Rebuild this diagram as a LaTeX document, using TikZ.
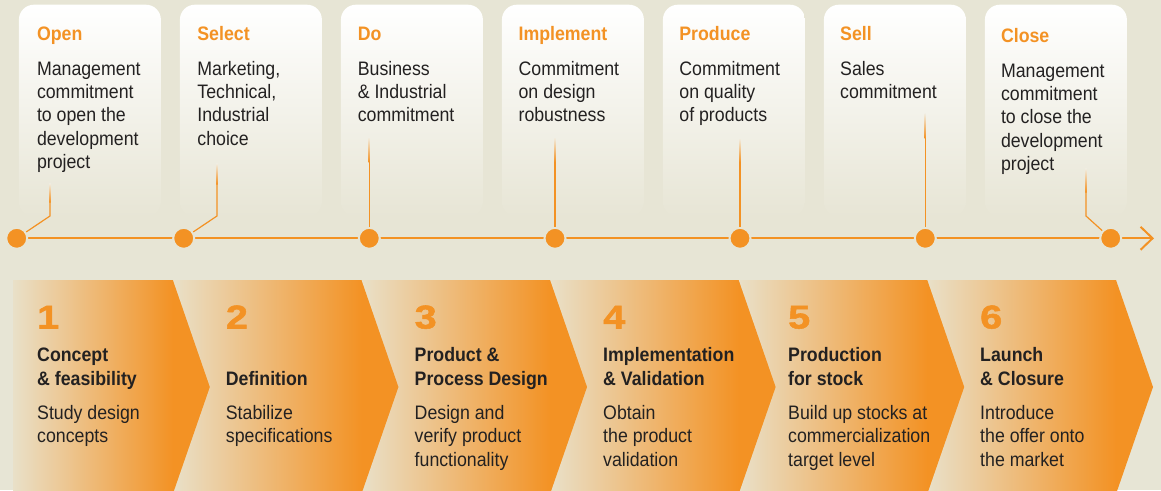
\documentclass[tikz,border=0pt]{standalone}
\usepackage{fontspec}
\setmainfont{Liberation Sans}[FakeStretch=0.91]
\newfontfamily\numfont{Liberation Sans}[FakeStretch=1.2, FakeBold=1.6]
\usetikzlibrary{arrows.meta}
\definecolor{bg}{HTML}{E7E5D5}
\definecolor{org}{HTML}{F39224}
\definecolor{txt}{HTML}{232121}
\definecolor{chevL}{HTML}{E9E0C8}
\definecolor{cardmid}{HTML}{F7F6F0}
\definecolor{cardlow}{HTML}{F1EFE5}
\tikzset{
  card/.style={rounded corners=15pt, top color=white, middle color=cardmid, bottom color=bg,
    minimum width=142pt, minimum height=212pt, anchor=north west, inner sep=0pt, draw=none},
  gtitle/.style={anchor=base west, inner sep=0pt, text=org, font=\bfseries\fontsize{19.5}{23.4}\selectfont},
  gbody/.style={anchor=base west, inner sep=0pt, text=txt, font=\fontsize{19.5}{23.4}\selectfont},
  ctitle/.style={anchor=base west, inner sep=0pt, text=txt, font=\bfseries\fontsize{19.5}{23.4}\selectfont},
  num/.style={anchor=base west, inner sep=0pt, text=org, font=\numfont\bfseries\fontsize{33}{33}\selectfont},
  dot/.style={circle, fill=org, draw=bg, line width=2pt, minimum size=21pt, inner sep=0pt},
  tl/.style={draw=org, line width=2.2pt},
  conn/.style={draw=org, line width=1.2pt},
  fadeconn/.style={top color=cardlow, bottom color=org, draw=none},
}
\newcommand{\lines}[2][t]{\parbox[#1]{150pt}{\raggedright #2}}
\begin{document}
\begin{tikzpicture}[x=1pt,y=-1pt]
\fill[bg] (0,0) rectangle (1161,490);
\useasboundingbox (0,0) rectangle (1161,490);

% ---------- cards ----------
\node[card] (c1) at (18.7,4.5) {};
\node[card] (c2) at (179.7,4.5) {};
\node[card] (c3) at (340.7,4.5) {};
\node[card] (c4) at (501.7,4.5) {};
\node[card] (c5) at (662.7,4.5) {};
\node[card] (c6) at (823.7,4.5) {};
\node[card] (c7) at (984.7,4.5) {};

% ---------- gate texts ----------
\node[gtitle] (t1) at (36.8,40.5) {Open};
\node[gbody]  (b1) at (36.8,75) {\lines{Management\\commitment\\to open the\\development\\project}};
\node[gtitle] (t2) at (197.2,40.5) {Select};
\node[gbody]  (b2) at (197.2,75) {\lines{Marketing,\\Technical,\\Industrial\\choice}};
\node[gtitle] (t3) at (357.6,40.5) {Do};
\node[gbody]  (b3) at (357.6,75) {\lines{Business\\\& Industrial\\commitment}};
\node[gtitle] (t4) at (518.4,40.5) {Implement};
\node[gbody]  (b4) at (518.4,75) {\lines{Commitment\\on design\\robustness}};
\node[gtitle] (t5) at (679.2,40.5) {Produce};
\node[gbody]  (b5) at (679.2,75) {\lines{Commitment\\on quality\\of products}};
\node[gtitle] (t6) at (840,40.5) {Sell};
\node[gbody]  (b6) at (840,75) {\lines{Sales\\commitment}};
\node[gtitle] (t7) at (1000.8,42.3) {Close};
\node[gbody]  (b7) at (1000.8,77) {\lines{Management\\commitment\\to close the\\development\\project}};

% ---------- timeline ----------
\coordinate (tip) at (1154,238.3);
\coordinate (start) at (16.7,238.3);
\draw[tl, -{Straight Barb[length=12pt, width=23pt, line width=2pt]}] (start) -- (tip);

% connectors (fading tops)
\shade[fadeconn] (49.4,183) rectangle (50.6,202);
\shade[fadeconn] (216.4,163) rectangle (217.6,184);
\shade[fadeconn] (368.7,137) rectangle (369.9,162);
\shade[fadeconn] (554.4,137) rectangle (555.6,162);
\shade[fadeconn] (739.4,138) rectangle (740.6,162);
\shade[fadeconn] (924.7,113) rectangle (925.9,138);
\shade[fadeconn] (1085.4,168) rectangle (1086.6,192);

\coordinate (k1) at (50,202);   \coordinate (e1) at (50,216);
\coordinate (k2) at (217,184);  \coordinate (e2) at (217,216);
\coordinate (k3) at (369.3,162);
\coordinate (k4) at (555,162);
\coordinate (k5) at (740,162);
\coordinate (k6) at (925.3,138);
\coordinate (k7) at (1086,192); \coordinate (e7) at (1086,216);

\node[dot] (d1) at (16.7,238.3) {};
\node[dot] (d2) at (183.7,238.3) {};
\node[dot] (d3) at (369.3,238.3) {};
\node[dot] (d4) at (555,238.3) {};
\node[dot] (d5) at (740,238.3) {};
\node[dot] (d6) at (925.3,238.3) {};
\node[dot] (d7) at (1110.7,238.3) {};

\draw[conn] (k1) -- (e1) -- (d1);
\draw[conn] (k2) -- (e2) -- (d2);
\draw[conn] (k3) -- (d3);
\draw[conn] (k4) -- (d4);
\draw[conn] (k5) -- (d5);
\draw[conn] (k6) -- (d6);
\draw[conn] (k7) -- (e7) -- (d7);

% ---------- chevrons ----------
\begin{scope}
  \clip (13,280) -- (173,280) -- (210,387) -- (173,494) -- (13,494) -- cycle;
  \fill[org] (13,280) rectangle (215,494);
  \shade[left color=chevL, right color=org] (13,280) rectangle (173,494);
\end{scope}
\foreach \i in {1,...,5} {
  \pgfmathsetmacro\xr{173+188.6*\i}
  \pgfmathsetmacro\xl{\xr-188.6}
  \begin{scope}
    \clip (\xl,280) -- (\xr,280) -- (\xr+37,387) -- (\xr,494) -- (\xl,494) -- (\xl+37,387) -- cycle;
    \fill[org] (\xl,280) rectangle (\xr+40,494);
    \shade[left color=chevL, right color=org] (\xl,280) rectangle (\xr,494);
  \end{scope}
}

% ---------- phase texts ----------
\node[num] (n1) at (37,328.5) {1};
\node[ctitle] (p1) at (37,385) {\lines[b]{Concept\\\& feasibility}};
\node[gbody] (q1) at (37,419.3) {\lines{Study design\\concepts}};

\node[num] (n2) at (225.7,328.5) {2};
\node[ctitle] (p2) at (225.7,385) {\lines[b]{Definition}};
\node[gbody] (q2) at (225.7,419.3) {\lines{Stabilize\\specifications}};

\node[num] (n3) at (414.5,328.5) {3};
\node[ctitle] (p3) at (414.5,385) {\lines[b]{Product \&\\Process Design}};
\node[gbody] (q3) at (414.5,419.3) {\lines{Design and\\verify product\\functionality}};

\node[num] (n4) at (603,328.5) {4};
\node[ctitle] (p4) at (603,385) {\lines[b]{Implementation\\\& Validation}};
\node[gbody] (q4) at (603,419.3) {\lines{Obtain\\the product\\validation}};

\node[num] (n5) at (788,328.5) {5};
\node[ctitle] (p5) at (788,385) {\lines[b]{Production\\for stock}};
\node[gbody] (q5) at (788,419.3) {\lines{Build up stocks at\\commercialization\\target level}};

\node[num] (n6) at (980,328.5) {6};
\node[ctitle] (p6) at (980,385) {\lines[b]{Launch\\\& Closure}};
\node[gbody] (q6) at (980,419.3) {\lines{Introduce\\the offer onto\\the market}};
\end{tikzpicture}
\end{document}
